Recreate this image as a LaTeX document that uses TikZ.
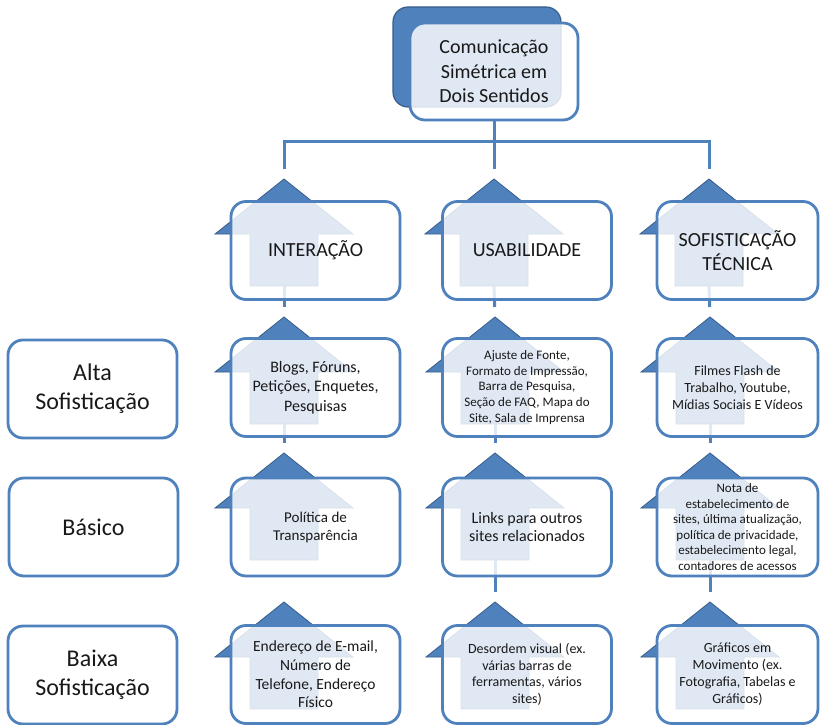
\documentclass[tikz,border=0pt]{standalone}
\usepackage{fontspec}
\setmainfont{Carlito}
\usepackage{tikz}
\usetikzlibrary{positioning}

\definecolor{officeblue}{HTML}{4F81BD}
\definecolor{officedark}{HTML}{385D8A}
\newcommand{\fs}[2]{\fontsize{#1}{#2}\selectfont}

\begin{document}
\begin{tikzpicture}[x=1pt, y=-1pt,
    card/.style={draw=officeblue, line width=2.8pt, rounded corners=15pt, fill=white, fill opacity=0.82, text opacity=1, text=black!90, align=center, inner sep=0pt, minimum width=169pt, minimum height=98pt},
    link/.style={officeblue, line width=3pt, shorten >=10pt},
    uparr/.pic={
        \fill[officeblue, draw=officedark, line width=0.8pt] (0,0) -- (69,55) -- (34,55) -- (34,107) -- (-34,107) -- (-34,55) -- (-69,55) -- cycle;
        \coordinate (-tip) at (0,0);
        \coordinate (-tail) at (0,107);
    }]
    \useasboundingbox (0,0) rectangle (820,725);

    % top
    \node[draw=officedark, line width=1.2pt, fill=officeblue, rounded corners=15pt, minimum width=168pt, minimum height=100pt] (back) at (477,57) {};
    \node[card, minimum width=168pt, minimum height=97pt, font=\fs{20}{24.4}] (top) at (494,71.5) {Comunicação\\Simétrica em\\Dois Sentidos};
    \coordinate (bus) at (494,141);

    % arrows
    \pic (a1) at (284,179) {uparr};
    \pic (a2) at (494,179) {uparr};
    \pic (a3) at (709,179) {uparr};
    \pic (b1) at (284,317) {uparr};
    \pic (b2) at (495,317) {uparr};
    \pic (b3) at (710,317) {uparr};
    \pic (c1) at (284,453) {uparr};
    \pic (c2) at (495,453) {uparr};
    \pic (c3) at (710,453) {uparr};
    \pic (d1) at (284,602) {uparr};
    \pic (d2) at (495,602) {uparr};
    \pic (d3) at (710,602) {uparr};

    \draw[link, shorten >=0pt] (top.south) -- (bus);
    \draw[link, shorten <=10pt] (a1-tip) |- (bus) -| (a3-tip);
    \draw[link] (bus) -- (a2-tip);
    \draw[link] (a1-tail) -- (b1-tip);
    \draw[link] (a2-tail) -- (b2-tip);
    \draw[link] (a3-tail) -- (b3-tip);
    \draw[link] (b1-tail) -- (c1-tip);
    \draw[link] (b2-tail) -- (c2-tip);
    \draw[link] (b3-tail) -- (c3-tip);
    \draw[link] (c2-tail) -- (d2-tip);
    \draw[link] (c3-tail) -- (d3-tip);

    % headers
    \node[card, font=\fs{20}{24.4}] (h1) at (315.5,250.5) {INTERAÇÃO};
    \node[card, font=\fs{20}{24.4}] (h2) at (527,250.5) {USABILIDADE};
    \node[card, minimum width=161pt, font=\fs{20}{24.4}] (h3) at (737.5,250.5) {SOFISTICAÇÃO\\TÉCNICA};

    % levels
    \node[card, font=\fs{24}{29}] (l1) at (92.5,389) {Alta\\Sofisticação};
    \node[card, font=\fs{24}{29}] (l2) at (93.5,527) {Básico};
    \node[card, font=\fs{24}{29}] (l3) at (92.5,675) {Baixa\\Sofisticação};

    % alta
    \node[card, font=\fs{16}{19.5}] (i1) at (315.5,387.5) {Blogs, Fóruns,\\Petições, Enquetes,\\Pesquisas};
    \node[card, font=\fs{13}{15.6}] (u1) at (527,387.5) {Ajuste de Fonte,\\Formato de Impressão,\\Barra de Pesquisa,\\Seção de FAQ, Mapa do\\Site, Sala de Imprensa};
    \node[card, minimum width=161pt, font=\fs{14}{17}] (s1) at (737.5,387.5) {Filmes Flash de\\Trabalho, Youtube,\\Mídias Sociais E Vídeos};

    % basico
    \node[card, font=\fs{15}{18}] (i2) at (315.5,527) {Política de\\Transparência};
    \node[card, font=\fs{16}{18}] (u2) at (527,527) {Links para outros\\sites relacionados};
    \node[card, minimum width=161pt, font=\fs{13}{15.6}] (s2) at (737.5,527) {Nota de\\estabelecimento de\\sites, última atualização,\\política de privacidade,\\estabelecimento legal,\\contadores de acessos};

    % baixa
    \node[card, font=\fs{15.5}{18.7}] (i3) at (315.5,674.5) {Endereço de E-mail,\\Número de\\Telefone, Endereço\\Físico};
    \node[card, font=\fs{14}{16.6}] (u3) at (527,674.5) {Desordem visual (ex.\\várias barras de\\ferramentas, vários\\sites)};
    \node[card, minimum width=161pt, font=\fs{14}{17}] (s3) at (737.5,674.5) {Gráficos em\\Movimento (ex.\\Fotografia, Tabelas e\\Gráficos)};
\end{tikzpicture}
\end{document}
